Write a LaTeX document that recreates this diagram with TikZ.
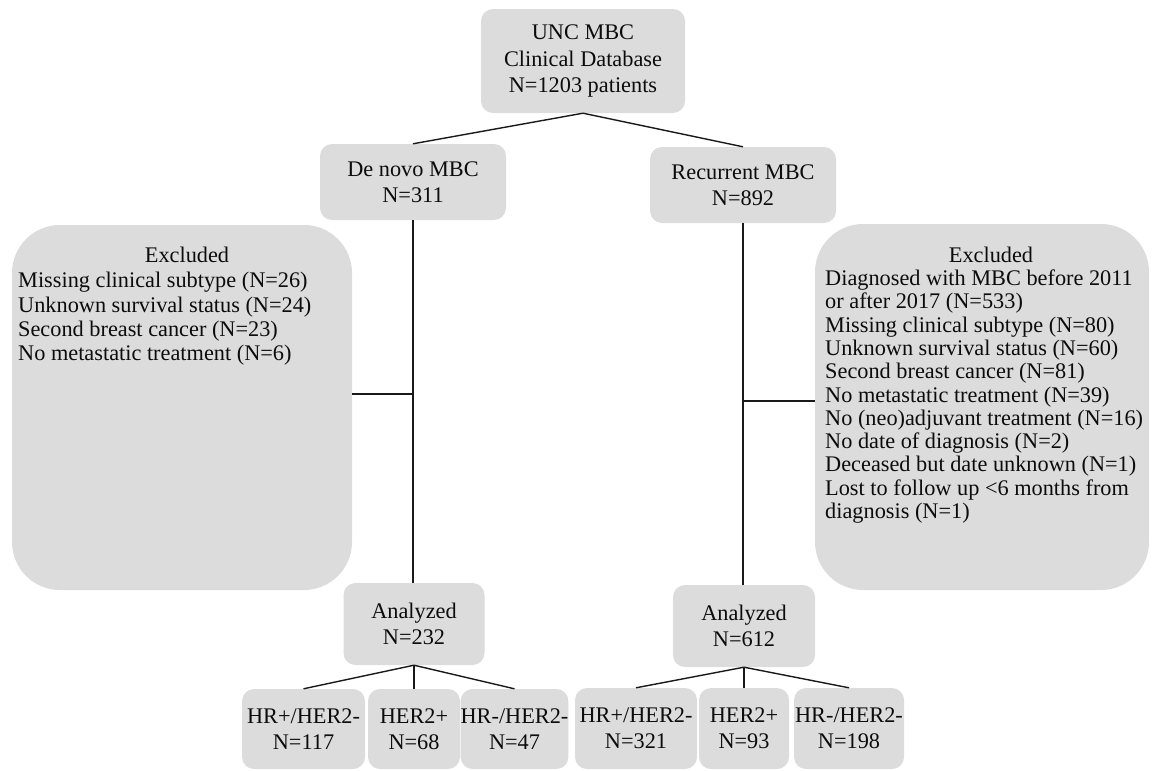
\documentclass[tikz,border=0pt]{standalone}
\usepackage{fontspec}
\setmainfont{Liberation Serif}
\definecolor{boxgray}{RGB}{220,220,220}
\definecolor{txt}{RGB}{12,12,12}
\definecolor{linecol}{RGB}{25,25,25}
\begin{document}
\begin{tikzpicture}[x=1pt,y=-1pt,
  box/.style={fill=boxgray, rounded corners=12pt, inner sep=0pt, align=center, text=txt,
    font=\fontsize{22.3}{26}\selectfont},
  bigbox/.style={fill=boxgray, rounded corners=48pt, inner sep=0pt},
  txtnode/.style={inner sep=0pt, text=txt, font=\fontsize{22.3}{23.3}\selectfont},
  link/.style={draw=linecol, line width=1.4pt}]
\useasboundingbox (0,0) rectangle (1154,771);

% top level
\node[box, minimum width=204pt, minimum height=104pt, font=\fontsize{22.3}{26.5}\selectfont] (top) at (583,61) {UNC MBC\\Clinical Database\\N=1203 patients};
\node[box, minimum width=186pt, minimum height=76pt] (denovo) at (413,182) {De novo MBC\\N=311};
\node[box, minimum width=186pt, minimum height=76pt] (recur) at (743,185) {Recurrent MBC\\N=892};

% excluded boxes
\node[bigbox, minimum width=340pt, minimum height=365pt] (exL) at (182,407.5) {};
\node[txtnode, anchor=base] (exLt) at (187,262) {Excluded};
\node[txtnode, anchor=north west, align=left, font=\fontsize{22.3}{24.4}\selectfont] (exLb) at (18,272)
  {Missing clinical subtype (N=26)\\Unknown survival status (N=24)\\Second breast cancer (N=23)\\No metastatic treatment (N=6)};

\node[bigbox, minimum width=334pt, minimum height=366pt] (exR) at (982,407) {};
\node[txtnode, anchor=base] (exRt) at (991,262) {Excluded};
\node[txtnode, anchor=north west, align=left] (exRb) at (825,269.6)
  {Diagnosed with MBC before 2011\\or after 2017 (N=533)\\Missing clinical subtype (N=80)\\Unknown survival status (N=60)\\Second breast cancer (N=81)\\No metastatic treatment (N=39)\\No (neo)adjuvant treatment (N=16)\\No date of diagnosis (N=2)\\Deceased but date unknown (N=1)\\Lost to follow up <6 months from\\diagnosis (N=1)};

% analyzed
\node[box, minimum width=141pt, minimum height=82pt] (anL) at (414,624) {Analyzed\\N=232};
\node[box, minimum width=142pt, minimum height=82pt] (anR) at (744,626) {Analyzed\\N=612};

% subtypes
\node[box, minimum width=123pt, minimum height=80pt] (b1) at (303.5,729) {HR+/HER2-\\N=117};
\node[box, minimum width=92pt, minimum height=80pt] (b2) at (414,729) {HER2+\\N=68};
\node[box, minimum width=101pt, minimum height=80pt] (b3) at (514.5,729) {HR-/HER2-\\N=47};
\node[box, minimum width=122pt, minimum height=81pt] (b4) at (636,728.5) {HR+/HER2-\\N=321};
\node[box, minimum width=90pt, minimum height=81pt] (b5) at (744,728.5) {HER2+\\N=93};
\node[box, minimum width=110pt, minimum height=81pt] (b6) at (849,728.5) {HR-/HER2-\\N=198};

% connectors
\draw[link] (top.south) -- (denovo.north);
\draw[link] (top.south) -- (recur.north);
\draw[link] (denovo.south) -- (denovo.south |- anL.north);
\draw[link] (recur.south) -- (recur.south |- anR.north);
\coordinate (jl) at (413,394);
\coordinate (jr) at (743,401);
\draw[link] (exL.east |- jl) -- (jl);
\draw[link] (jr) -- (exR.west |- jr);
\draw[link] (anL.south) -- (b1.north);
\draw[link] (anL.south) -- (b2.north);
\draw[link] (anL.south) -- (b3.north);
\draw[link] (anR.south) -- (b4.north);
\draw[link] (anR.south) -- (b5.north);
\draw[link] (anR.south) -- (b6.north);
\end{tikzpicture}
\end{document}
